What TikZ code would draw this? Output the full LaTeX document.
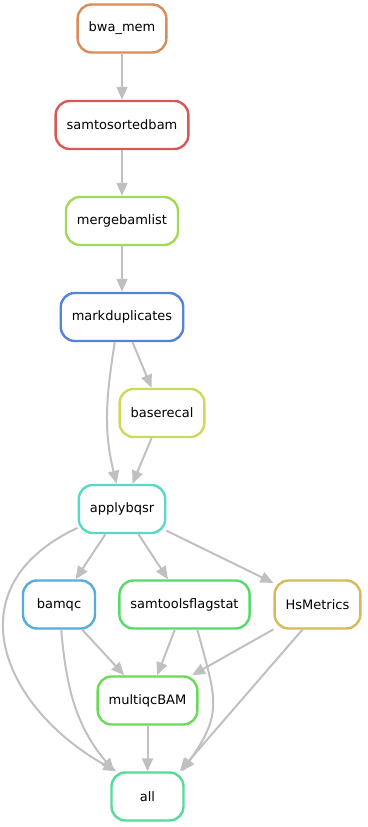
\documentclass[tikz,border=0pt]{standalone}
\usepackage{fontspec}
\setmainfont{DejaVu Sans}
\definecolor{edge}{HTML}{C0C0C0}
\definecolor{Cbwa}{HTML}{D98C55}
\definecolor{Csort}{HTML}{D95757}
\definecolor{Cmerge}{HTML}{A2D957}
\definecolor{Cmark}{HTML}{5782D9}
\definecolor{Crecal}{HTML}{CED957}
\definecolor{Capply}{HTML}{57D9C3}
\definecolor{Cbamqc}{HTML}{57ADD9}
\definecolor{Cflag}{HTML}{57D96C}
\definecolor{Chs}{HTML}{D9B857}
\definecolor{Cmultiqc}{HTML}{6CD957}
\definecolor{Call}{HTML}{57D998}
\usepackage{tikz}
\usetikzlibrary{arrows.meta}
\tikzstyle{base}=[x=1pt, y=1pt]
\tikzstyle{rule}=[rounded corners=14pt, line width=2.4pt, fill=white, minimum width=72pt, minimum height=48pt, inner xsep=11pt, font=\fontsize{13}{15}\selectfont]
\tikzstyle{dep}=[edge, line width=2pt, -{Triangle[length=13pt, width=11pt]}]

\begin{document}
\begin{tikzpicture}[base]
    \path [use as bounding box] (0,0) rectangle (367,827);
        \node [rule, draw=Cbwa] (bwamem) at (122,798.5) {bwa\_mem};
        \node [rule, draw=Csort] (samsort) at (122,702) {samtosortedbam};
        \node [rule, draw=Cmerge] (mergebam) at (122,606) {mergebamlist};
        \node [rule, draw=Cmark] (markdup) at (122,510) {markduplicates};
        \node [rule, draw=Crecal] (baserecal) at (162,414) {baserecal};
        \node [rule, draw=Capply] (applybqsr) at (122,318) {applybqsr};
        \node [rule, draw=Cbamqc] (bamqc) at (59,222.5) {bamqc};
        \node [rule, draw=Cflag] (flagstat) at (184.5,222.5) {samtoolsflagstat};
        \node [rule, draw=Chs] (hsmetrics) at (317.5,222.5) {HsMetrics};
        \node [rule, draw=Cmultiqc] (multiqc) at (147.5,126.5) {multiqcBAM};
        \node [rule, draw=Call] (all) at (147.5,30.5) {all};
        % dependencies
        \draw [dep] (bwamem) -- (samsort);
        \draw [dep] (samsort) -- (mergebam);
        \draw [dep] (mergebam) -- (markdup);
        \draw [dep] (markdup) -- (baserecal);
        \draw [dep] (markdup.-106) to[out=-99, in=104] (applybqsr.102);
        \draw [dep] (baserecal) -- (applybqsr);
        \draw [dep] (applybqsr.-157) .. controls +(-155:140) and +(151:130) .. (all.141);
        \draw [dep] (applybqsr) -- (bamqc);
        \draw [dep] (applybqsr) -- (flagstat);
        \draw [dep] (applybqsr) -- (hsmetrics);
        \draw [dep] (bamqc.-85) to[out=-85, in=130] (all.143);
        \draw [dep] (bamqc) -- (multiqc);
        \draw [dep] (flagstat) -- (multiqc);
        \draw [dep] (flagstat.-63) to[out=-75, in=55, looseness=1.3] (all.36);
        \draw [dep] (hsmetrics) -- (multiqc);
        \draw [dep] (hsmetrics.-121) -- (all.38);
        \draw [dep] (multiqc) -- (all);
    \end{tikzpicture}
\end{document}
